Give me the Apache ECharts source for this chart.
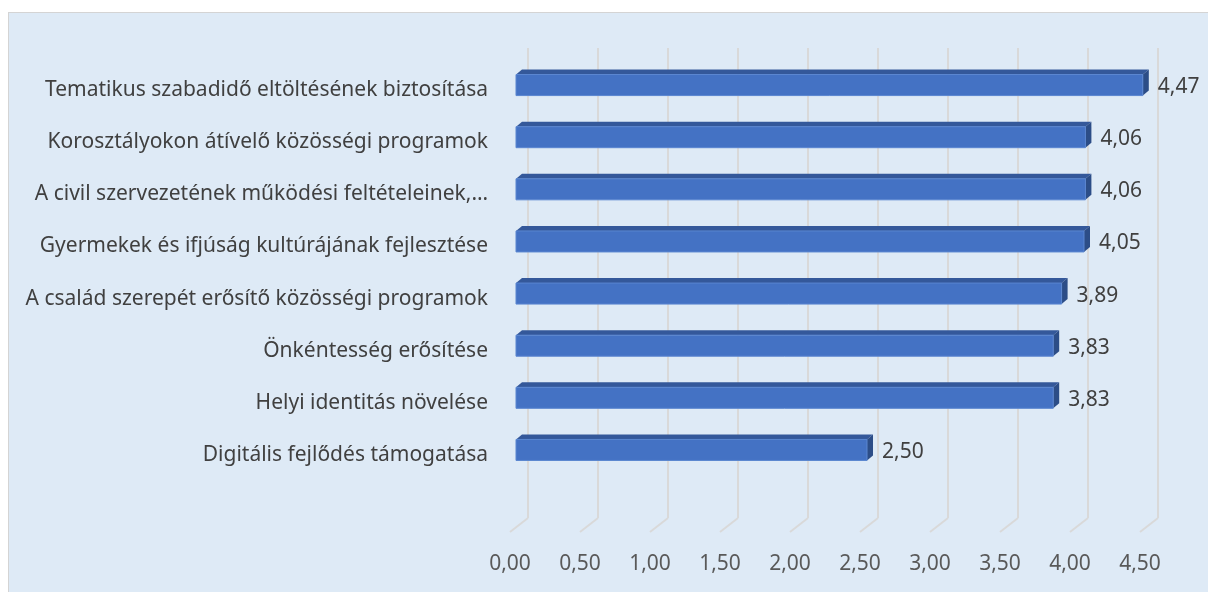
<!DOCTYPE html>
<html>
<head>
<meta charset="utf-8">
<script src="https://cdn.jsdelivr.net/npm/echarts@6/dist/echarts.min.js"></script>
<style>
  html, body { margin: 0; padding: 0; background: #ffffff; }
  #bg { position: absolute; left: 8px; top: 12px; width: 1210px; height: 590px;
        background: #deeaf6; border-left: 1px solid #d4d4d4; border-top: 1px solid #d4d4d4; }
  #chart { position: absolute; left: 0; top: 0; width: 1208px; height: 592px; }
</style>
</head>
<body>
<div id="bg"></div>
<div id="chart"></div>
<script>
var categories = [
    'Tematikus szabadidő eltöltésének biztosítása',
    'Korosztályokon átívelő közösségi programok',
    'A civil szervezetének működési feltételeinek,…',
    'Gyermekek és ifjúság kultúrájának fejlesztése',
    'A család szerepét erősítő közösségi programok',
    'Önkéntesség erősítése',
    'Helyi identitás növelése',
    'Digitális fejlődés támogatása'
];
var values = [4.47, 4.06, 4.06, 4.05, 3.89, 3.83, 3.83, 2.50];
var ticks = [0, 0.5, 1, 1.5, 2, 2.5, 3, 3.5, 4, 4.5];

var font = 'Noto Sans';
function comma(v) { return v.toFixed(2).replace('.', ','); }

var myChart = echarts.init(document.getElementById('chart'));
var option = {
    animation: false,
    grid: [
        { left: 528, right: 50, top: 48, bottom: 74 },
        { left: 528, right: 50, top: 64, bottom: 111 }
    ],
    xAxis: [{
        gridIndex: 0,
        type: 'value',
        min: 0,
        max: 4.5,
        interval: 0.5,
        axisLine: { show: false },
        axisTick: { show: false },
        splitLine: { show: true, lineStyle: { color: '#d9d9d9', width: 2 } },
        axisLabel: {
            margin: 36,
            color: '#595959',
            fontFamily: font,
            fontSize: 21,
            padding: [0, 36, 0, 0],
            formatter: function (v) { return comma(v); }
        }
    }, {
        gridIndex: 1,
        type: 'value',
        min: 0,
        max: 4.5,
        show: false
    }],
    yAxis: [{
        gridIndex: 0,
        type: 'value',
        min: 0,
        max: 1,
        show: false
    }, {
        gridIndex: 1,
        type: 'category',
        inverse: true,
        data: categories,
        axisLine: { show: false },
        axisTick: { show: false },
        axisLabel: {
            margin: 40,
            color: '#404040',
            fontFamily: font,
            fontSize: 21
        }
    }],
    series: [{
        // floor lines of the 3D frame
        type: 'custom',
        xAxisIndex: 0,
        yAxisIndex: 0,
        data: ticks.map(function (t) { return [t, 0]; }),
        renderItem: function (params, api) {
            var p = api.coord([api.value(0), 0]);
            return {
                type: 'line',
                shape: { x1: p[0], y1: p[1], x2: p[0] - 18, y2: p[1] + 14 },
                style: { stroke: '#d9d9d9', lineWidth: 2 }
            };
        },
        silent: true
    }, {
        type: 'custom',
        xAxisIndex: 1,
        yAxisIndex: 1,
        data: values.map(function (v, i) { return [v, i]; }),
        renderItem: function (params, api) {
            var v = api.value(0);
            var c = api.value(1);
            var p0 = api.coord([0, c]);
            var p1 = api.coord([v, c]);
            var cy = p0[1] - 5;
            var h = 21, dx = 6, dy = -5;
            var x0 = p0[0] - 12, x1 = p1[0] - 11;
            var top = cy - h / 2, bot = cy + h / 2;
            return {
                type: 'group',
                children: [{
                    type: 'polygon',
                    shape: { points: [[x0, top], [x1, top], [x1 + dx, top + dy], [x0 + dx, top + dy]] },
                    style: { fill: '#34589a' }
                }, {
                    type: 'polygon',
                    shape: { points: [[x1, top], [x1 + dx, top + dy], [x1 + dx, bot + dy], [x1, bot]] },
                    style: { fill: '#2c4d87' }
                }, {
                    type: 'rect',
                    shape: { x: x0, y: top, width: x1 - x0, height: h },
                    style: { fill: '#4472c4', stroke: '#5a86d0', lineWidth: 1 }
                }, {
                    type: 'text',
                    style: {
                        x: p1[0] + 4,
                        y: cy + 2,
                        text: comma(v),
                        fill: '#404040',
                        font: '21px "' + font + '"',
                        textAlign: 'left',
                        textVerticalAlign: 'middle'
                    }
                }]
            };
        }
    }]
};
myChart.setOption(option, true);
</script>
</body>
</html>
